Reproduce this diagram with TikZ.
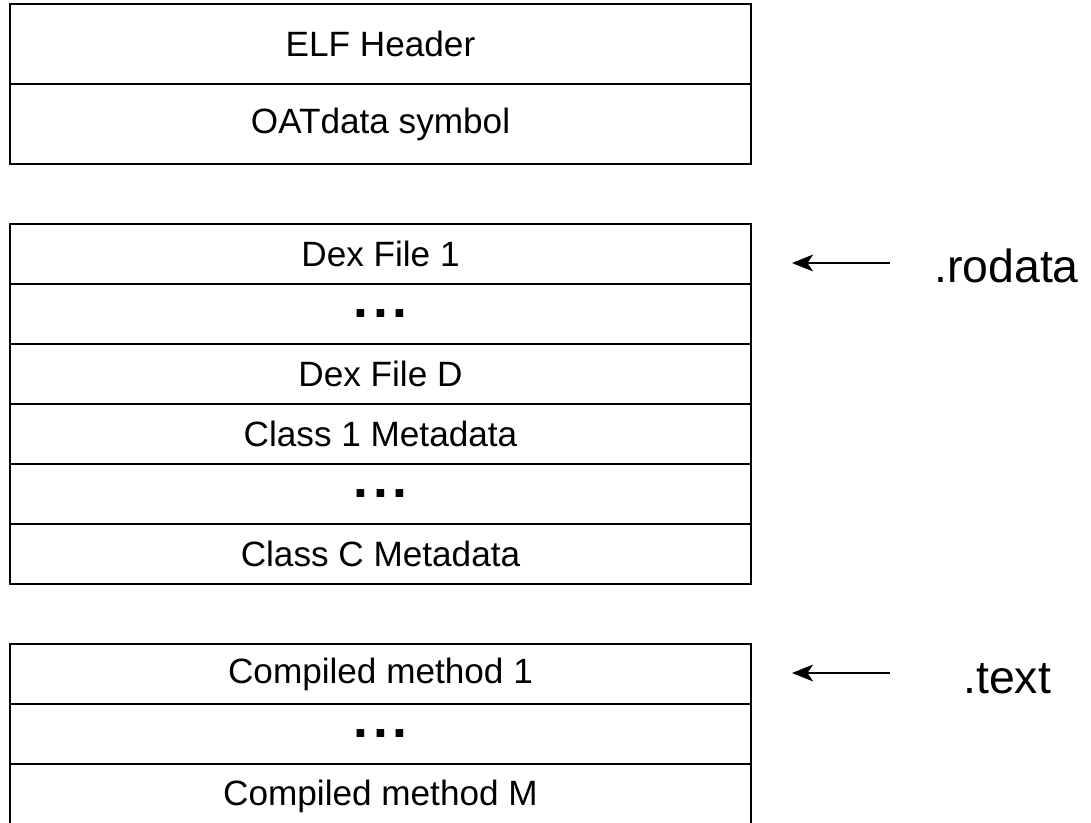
\documentclass[tikz,border=0pt]{standalone}
\usepackage{fontspec}
\setmainfont{Liberation Sans}
\usetikzlibrary{arrows.meta}
\tikzset{
  seg/.style={draw, line width=1.2pt, minimum width=18.525cm, inner sep=0pt,
    font=\fontsize{25}{30}\selectfont},
  tallseg/.style={seg, minimum height=2cm},
  shortseg/.style={seg, minimum height=1.5cm},
  section/.style={font=\fontsize{33}{40}\selectfont, inner sep=0pt, anchor=base west},
  secarrow/.style={-{Stealth[length=15pt,width=12pt,inset=4pt]}, line width=1.2pt}
}
\newcommand{\rowdots}{{\fontsize{38}{40}\selectfont\bfseries .\kern3.6pt.\kern3.6pt.}}

\begin{document}
\begin{tikzpicture}[x=0.025cm,y=-0.025cm]
    \useasboundingbox (0,0) rectangle (1091,822);
    % header
    \node[tallseg] (elf) at (380.5,44) {ELF Header};
    \node[tallseg] (oat) at (380.5,124) {OATdata symbol};
    % rodata
    \node[shortseg] (dexa) at (380.5,254) {Dex File 1};
    \node[shortseg] (dexdots) at (380.5,314) {\rowdots};
    \node[shortseg] (dexd) at (380.5,374) {Dex File D};
    \node[shortseg] (clsa) at (380.5,434) {Class 1 Metadata};
    \node[shortseg] (clsdots) at (380.5,494) {\rowdots};
    \node[shortseg] (clsc) at (380.5,554) {Class C Metadata};
    % text
    \node[shortseg] (meta) at (380.5,674) {Compiled method 1};
    \node[shortseg] (metdots) at (380.5,734) {\rowdots};
    \node[seg, minimum height=1.6cm] (metm) at (380.5,796) {Compiled method M};
    % section labels
    \node[section] (rolabel) at (934,282) {.rodata};
    \node[section] (txlabel) at (963,693) {.text};
    \coordinate (rotail) at (890,263);
    \coordinate (rotip) at (792,263);
    \coordinate (txtail) at (890,673);
    \coordinate (txtip) at (792,673);
    \draw[secarrow] (rotail) -- (rotip);
    \draw[secarrow] (txtail) -- (txtip);
\end{tikzpicture}
\end{document}
